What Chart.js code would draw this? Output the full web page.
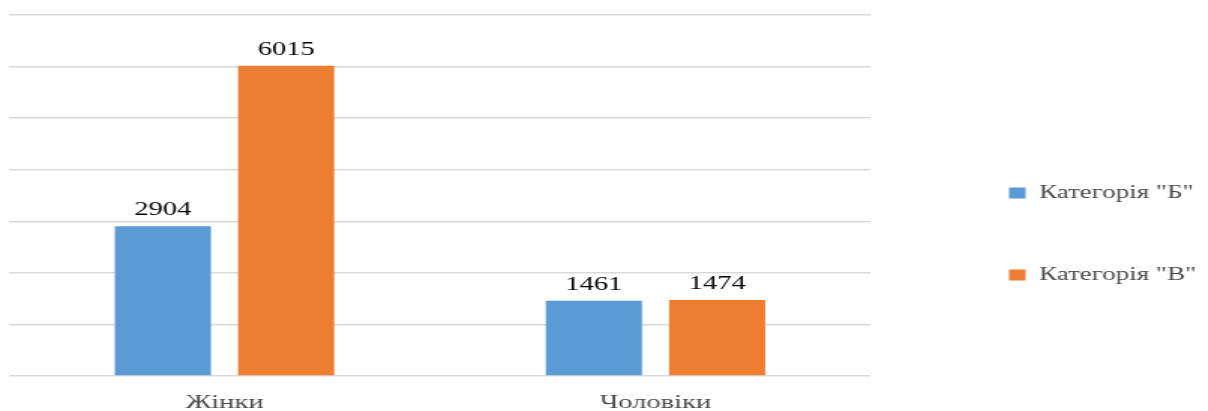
<!DOCTYPE html>
<html>
<head>
<meta charset="utf-8">
<script src="https://cdn.jsdelivr.net/npm/chart.js@4/dist/chart.umd.min.js"></script>
<style>
  html, body { margin: 0; padding: 0; background: #fff; overflow: hidden; }
  /* the reference is stretched sideways, so draw narrow and scale up */
  #wrap {
    position: relative;
    width: 805px;
    height: 411px;
    transform: scaleX(1.5006);
    transform-origin: 0 0;
  }
</style>
</head>
<body>
<div id="wrap"><canvas id="chart"></canvas></div>
<script>
(function () {
  'use strict';

  // Chart data
  const categories = ['Жінки', 'Чоловіки'];
  const seriesNames = ['Категорія "Б"', 'Категорія "В"'];
  const valuesB = [2904, 1461];
  const valuesV = [6015, 1474];

  const blue = '#5B9BD5';
  const orange = '#ED7D31';
  const serif = '"Liberation Serif", "Times New Roman", serif';

  // Value labels above each bar
  const barLabels = {
    id: 'barLabels',
    afterDatasetsDraw: function (chart) {
      const ctx = chart.ctx;
      ctx.save();
      ctx.font = '19px ' + serif;
      ctx.fillStyle = '#000';
      ctx.textAlign = 'center';
      ctx.textBaseline = 'alphabetic';
      chart.data.datasets.forEach(function (ds, di) {
        chart.getDatasetMeta(di).data.forEach(function (bar, i) {
          ctx.fillText(String(ds.data[i]), bar.x, bar.y - 11);
        });
      });
      ctx.restore();
    },
  };

  function draw() {
    new Chart(document.getElementById('chart'), {
      type: 'bar',
      data: {
        labels: categories,
        datasets: [
          {
            label: seriesNames[0],
            data: valuesB,
            backgroundColor: blue,
            categoryPercentage: 0.572,
            barPercentage: 0.78,
          },
          {
            label: seriesNames[1],
            data: valuesV,
            backgroundColor: orange,
            categoryPercentage: 0.572,
            barPercentage: 0.78,
          },
        ],
      },
      options: {
        responsive: true,
        maintainAspectRatio: false,
        animation: false,
        devicePixelRatio: 1,
        layout: { padding: { left: 6, top: 15, right: -2, bottom: 0 } },
        plugins: {
          tooltip: { enabled: false },
          legend: {
            position: 'right',
            title: { display: true, text: '', font: { size: 10 }, padding: { top: 30, bottom: 0 } },
            labels: {
              boxWidth: 11,
              boxHeight: 11,
              padding: 64,
              color: '#4a4a4a',
              font: { family: serif, size: 18 },
            },
          },
        },
        scales: {
          x: {
            grid: { display: false, drawTicks: false },
            border: { display: false },
            ticks: {
              color: '#4a4a4a',
              font: { family: serif, size: 19 },
              padding: 16,
            },
            afterFit: function (scale) {
              scale.height = 35;
            },
          },
          y: {
            position: 'right',
            min: 0,
            max: 7000,
            ticks: { display: false, stepSize: 1000 },
            grid: { color: '#d9d9d9', lineWidth: 1.5, drawTicks: false },
            border: { display: false },
            afterFit: function (scale) {
              scale.width = 28;
            },
          },
        },
      },
      plugins: [barLabels],
    });
  }

  // make sure the serif face is ready before the canvas uses it
  if (document.fonts && document.fonts.ready) {
    document.fonts.ready.then(draw, draw);
  } else {
    draw();
  }
})();
</script>
</body>
</html>
